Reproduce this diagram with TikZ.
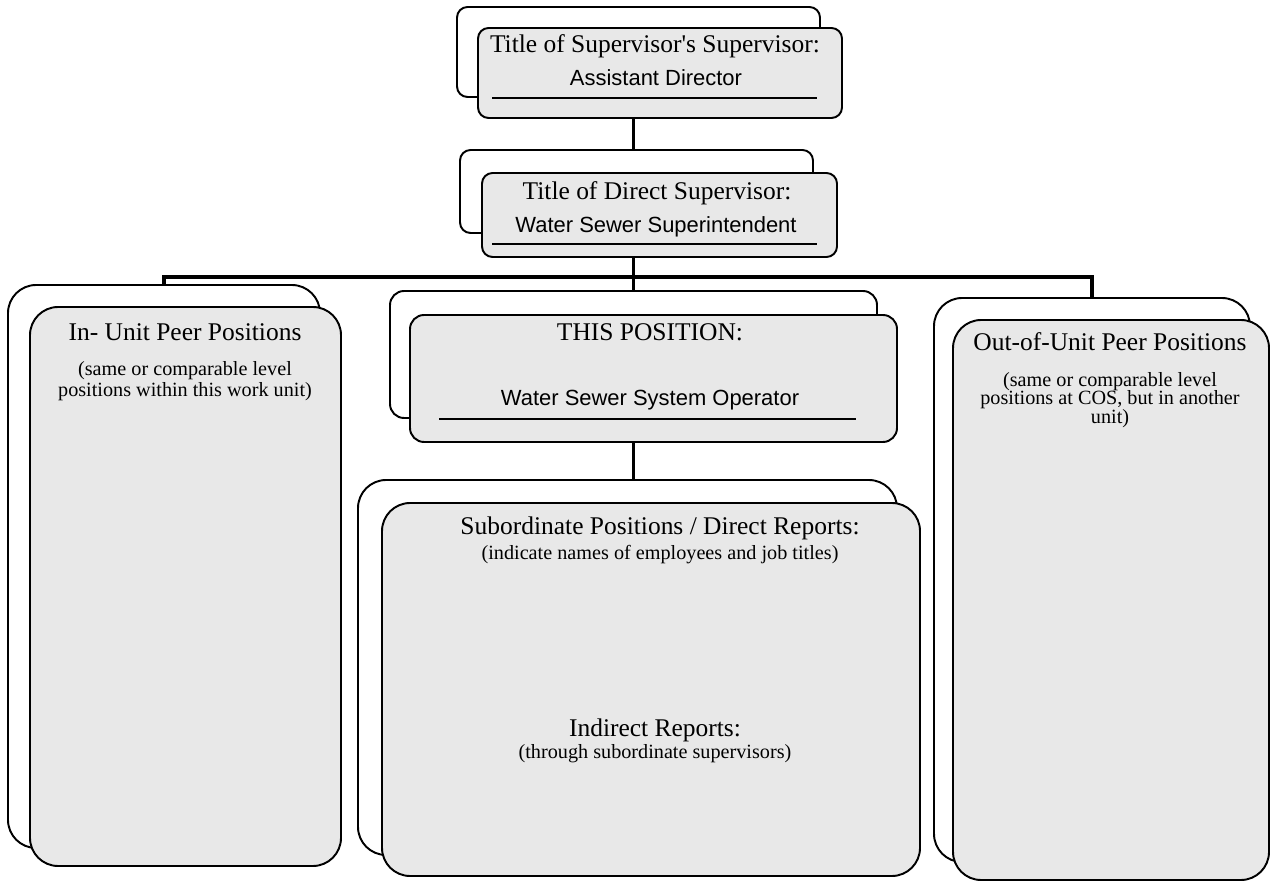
\documentclass[tikz,border=0pt]{standalone}
\usepackage{fontspec}
\setmainfont{Liberation Serif}
\setsansfont{Liberation Sans}
\usetikzlibrary{positioning,fit}

\begin{document}
\begin{tikzpicture}[x=0.02cm, y=-0.02cm, align=center,
    back_box/.style={draw, line width=1.1pt, fill=white, inner sep=0pt, rounded corners=#1},
    back_box/.default=6pt,
    front_box/.style={draw, line width=1.1pt, fill=black!9, inner sep=0pt, rounded corners=#1},
    front_box/.default=6pt,
    head_text/.style={font=\fontsize{14.5}{16}\selectfont, inner sep=0pt},
    name_text/.style={font=\sffamily\fontsize{12.5}{14}\selectfont, inner sep=0pt},
    note_text/.style={font=\fontsize{11.5}{12}\selectfont, inner sep=0pt},
    name_line/.style={line width=1pt},
    bus/.style={line width=2pt}]
    \useasboundingbox (0,0) rectangle (1273,884);

    % supervisor's supervisor
    \node [back_box, fit={(457,7) (820,97)}] (top_back) {};
    \node [front_box, fit={(478,28) (842,118)}] (top_front) {};
    \node [head_text] (top_title) at (655,46) {Title of Supervisor\textquotesingle s Supervisor:};
    \node [name_text] (top_name) at (656,78) {Assistant Director};
    \draw[name_line] (top_front.south west) ++(15,-21) -- ++(325,0);

    % direct supervisor
    \node [back_box, fit={(460,150) (813,233)}] (sup_back) {};
    \node [front_box, fit={(482,173) (837,257)}] (sup_front) {};
    \node [head_text] (sup_title) at (657,193) {Title of Direct Supervisor:};
    \node [name_text] (sup_name) at (656,227) {Water Sewer Superintendent};
    \draw[name_line] (sup_front.south west) ++(11,-14) -- ++(325,0);

    % this position
    \node [back_box=8pt, fit={(390,291) (877,418)}] (this_back) {};
    \node [front_box=8pt, fit={(410,315) (897,442)}] (this_front) {};
    \node [head_text] (this_title) at (650,332) {THIS POSITION:};
    \node [name_text] (this_name) at (650,400) {Water Sewer System Operator};
    \draw[name_line] (this_front.south west) ++(30,-24) -- ++(417,0);

    % subordinates
    \node [back_box=16pt, fit={(358,480) (897,855)}] (sub_back) {};
    \node [front_box=16pt, fit={(382,503) (920,876)}] (sub_front) {};
    \node [head_text] (sub_title) at (660,528) {Subordinate Positions / Direct Reports:};
    \node [note_text] (sub_note) at (660,555) {(indicate names of employees and job titles)};
    \node [head_text] (indirect_title) at (655,730) {Indirect Reports:};
    \node [note_text] (indirect_note) at (655,754) {(through subordinate supervisors)};

    % peers in the unit
    \node [back_box=16pt, fit={(8,285) (320,848)}] (in_back) {};
    \node [front_box=16pt, fit={(30,307) (341,866)}] (in_front) {};
    \node [head_text] (in_title) at (185,332) {In- Unit Peer Positions};
    \node [note_text] (in_note) at (185,381) {(same or comparable level\\positions within this work unit)};

    % peers out of the unit
    \node [back_box=16pt, fit={(934,298) (1250,862)}] (out_back) {};
    \node [front_box=16pt, fit={(953,320) (1269,880)}] (out_front) {};
    \node [head_text] (out_title) at (1110,342) {Out-of-Unit Peer Positions};
    \node [note_text] (out_note) at (1110,400) {(same or comparable level\\[-1.5pt]positions at COS, but in another\\[-1.5pt]unit)};

    \coordinate (bus_mid) at (634,277);

    \draw[bus] (top_front.south -| this_back.north) -- (sup_back.north -| this_back.north);
    \draw[bus] (sup_front.south -| this_back.north) -- (this_back.north);
    \draw[bus] (in_back.north) |- (bus_mid) -| (out_back.north);
    \draw[bus] (this_front.south -| this_back.north) -- (sub_back.north -| this_back.north);
\end{tikzpicture}
\end{document}
